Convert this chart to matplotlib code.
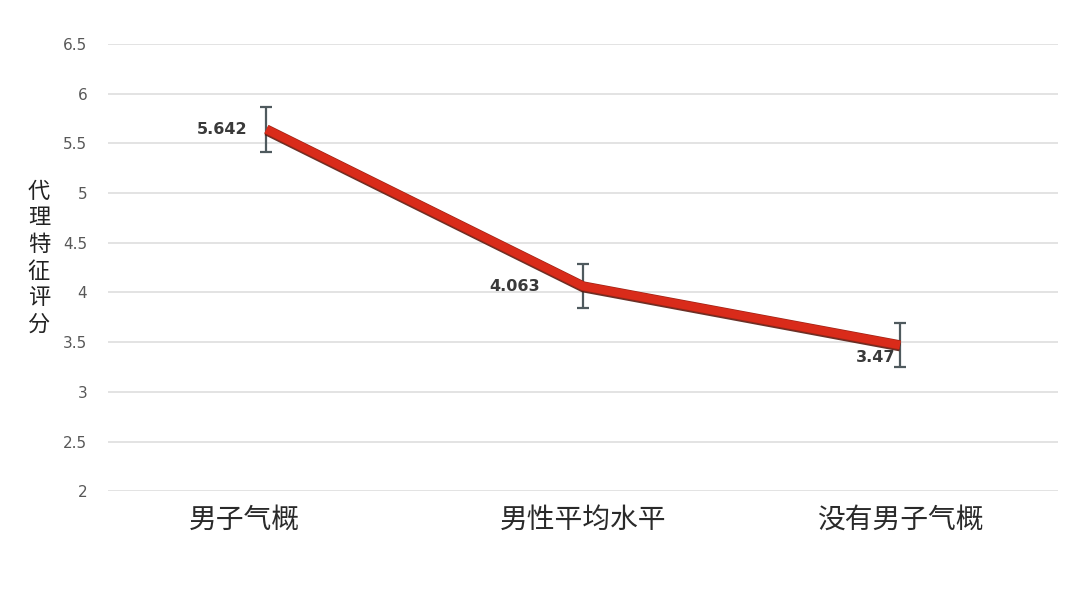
import numpy as np
import matplotlib.pyplot as plt
import matplotlib.patheffects as pe
import matplotlib.transforms as mtransforms

plt.rcParams['font.family'] = ['Noto Sans CJK SC', 'DejaVu Sans']

# 数据
categories = ['男子气概', '男性平均水平', '没有男子气概']
scores = [5.642, 4.063, 3.47]
errors = [0.225, 0.22, 0.225]
value_labels = ['5.642', '4.063', '3.47']
yticks = [2, 2.5, 3, 3.5, 4, 4.5, 5, 5.5, 6, 6.5]
ytick_labels = ['2', '2.5', '3', '3.5', '4', '4.5', '5', '5.5', '6', '6.5']

fig = plt.figure(figsize=(10.8, 5.94), dpi=100)
ax = fig.add_axes([0.1, 0.173, 0.88, 0.753])

x = np.arange(len(categories))

# 网格线
for t in yticks:
    ax.axhline(t, color='#dedede', linewidth=1.2, zorder=0)

# 误差线
ax.errorbar(x, scores, yerr=errors, fmt='none', ecolor='#4f5a5e',
            elinewidth=1.6, capsize=4, capthick=1.6, zorder=2)

# 折线（带暗色阴影）
ax.plot(x, scores, color='#d92b1a', linewidth=6, solid_capstyle='butt', zorder=3,
        path_effects=[pe.SimpleLineShadow(offset=(0, -1.5), shadow_color='#5a1a10', alpha=0.9),
                      pe.Stroke(linewidth=7, foreground='#9e2416'), pe.Normal()])

# 数值标签
offsets = [(-0.06, 0.0), (-0.135, 0.0), (-0.016, -0.12)]
for xi, yi, lab, (dx, dy) in zip(x, scores, value_labels, offsets):
    ax.text(xi + dx, yi + dy, lab, ha='right', va='center', fontsize=11.5,
            color='#3a3a3a', fontweight='bold', family=['DejaVu Sans'])

ax.set_xlim(-0.5, 2.5)
ax.set_ylim(2, 6.5)
ax.set_yticks(yticks)
ax.set_yticklabels(ytick_labels, fontsize=11, color='#585858',
                   family=['DejaVu Sans'])
ax.set_xticks(x)
ax.set_xticklabels(categories, fontsize=20, color='#2a2a2a')
ax.tick_params(axis='y', length=0, pad=15)
ax.tick_params(axis='x', length=0, pad=10)
for s in ax.spines.values():
    s.set_visible(False)

# 第一个类别标签略向左偏
shift = mtransforms.ScaledTranslation(-0.22, 0, fig.dpi_scale_trans)
first = ax.get_xticklabels()[0]
first.set_transform(first.get_transform() + shift)

# 纵轴标题（竖排）
fig.text(0.036, 0.566, '\n'.join('代理特征评分'), ha='center', va='center',
         fontsize=16, color='#222222', linespacing=1.2)

fig.savefig('out.png', dpi=100)
